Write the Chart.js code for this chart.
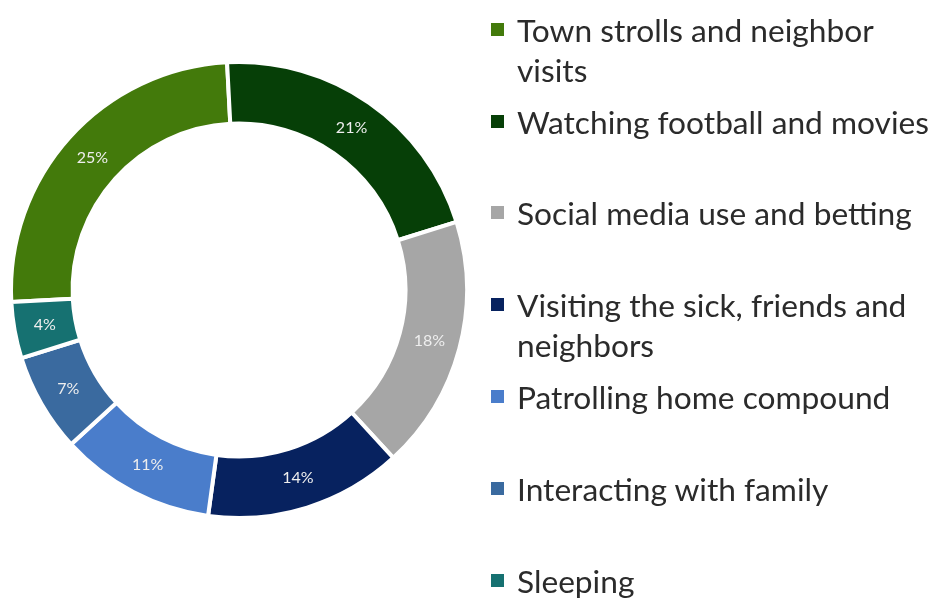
<!DOCTYPE html>
<html>
<head>
<meta charset="utf-8">
<script src="https://cdn.jsdelivr.net/npm/chart.js@4/dist/chart.umd.min.js"></script>
<style>
  html, body { margin: 0; padding: 0; background: #ffffff; }
  body { width: 934px; height: 600px; position: relative; overflow: hidden; font-family: Lato, "Open Sans", sans-serif; }
  #chartBox { position: absolute; left: 0; top: 0; width: 478px; height: 580px; }
  #legend { position: absolute; left: 0; top: 0; width: 934px; height: 600px; }
  .item { position: absolute; left: 490px; width: 444px; }
  .mark { position: absolute; left: 1px; top: 13px; width: 13px; height: 13px; }
  .txt { position: absolute; left: 27px; width: 417px; font-size: 31.7px; line-height: 40px; color: #2b2b2b; }
</style>
</head>
<body>
<div id="chartBox"><canvas id="c"></canvas></div>
<div id="legend"></div>
<script>
const categories = [
  "Town strolls and neighbor visits",
  "Watching football and movies",
  "Social media use and betting",
  "Visiting the sick, friends and neighbors",
  "Patrolling home compound",
  "Interacting with family",
  "Sleeping"
];
const shares = [25, 21, 18, 14, 11, 7, 4];
const valueLabels = ["25%", "21%", "18%", "14%", "11%", "7%", "4%"];
const colors = ["#437A0B", "#063F07", "#A6A6A6", "#07225F", "#4A7DCB", "#3A6A9F", "#167171"];

const labelPlugin = {
  id: 'sliceLabels',
  afterDatasetsDraw(chart) {
    const ctx = chart.ctx;
    const meta = chart.getDatasetMeta(0);
    ctx.save();
    ctx.font = '16px Lato, "Open Sans", sans-serif';
    ctx.fillStyle = '#eeeeee';
    ctx.textAlign = 'center';
    ctx.textBaseline = 'middle';
    meta.data.forEach((arc, i) => {
      const p = arc.tooltipPosition();
      ctx.fillText(valueLabels[i], p.x, p.y);
    });
    ctx.restore();
  }
};

new Chart(document.getElementById('c'), {
  type: 'doughnut',
  data: {
    labels: categories,
    datasets: [{
      data: shares,
      backgroundColor: colors,
      borderColor: '#ffffff',
      borderWidth: 4,
      hoverOffset: 0
    }]
  },
  options: {
    responsive: true,
    maintainAspectRatio: false,
    animation: false,
    rotation: -93,
    cutout: '73%',
    layout: { padding: 9 },
    plugins: {
      legend: { display: false },
      tooltip: { enabled: false }
    }
  },
  plugins: [labelPlugin]
});

// HTML legend built from the same arrays
const legend = document.getElementById('legend');
const rowTop = [10, 102, 193, 285, 377, 469, 561];
categories.forEach((name, i) => {
  const item = document.createElement('div');
  item.className = 'item';
  item.style.top = rowTop[i] + 'px';
  const m = document.createElement('div');
  m.className = 'mark';
  m.style.background = colors[i];
  const t = document.createElement('div');
  t.className = 'txt';
  t.textContent = name;
  item.appendChild(m);
  item.appendChild(t);
  legend.appendChild(item);
});
</script>
</body>
</html>
